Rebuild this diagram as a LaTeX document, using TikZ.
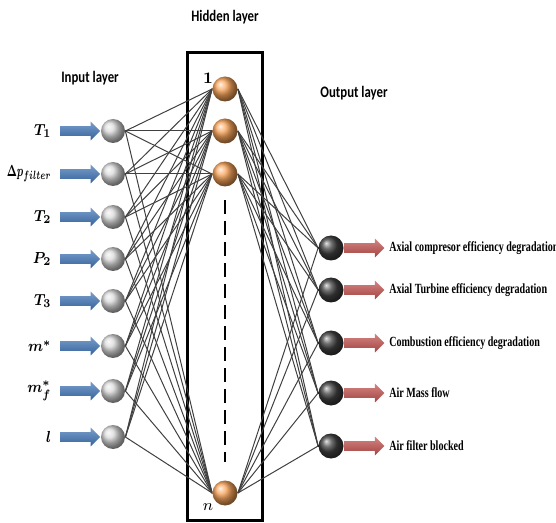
\documentclass[tikz,border=0pt]{standalone}
\usepackage{fontspec}
\usepackage{graphicx}
\newfontfamily\layerfont{Carlito}
\newfontfamily\outfont{Liberation Serif}
\usetikzlibrary{positioning,shapes.arrows,backgrounds}
\definecolor{hidorange}{HTML}{F89A48}
\definecolor{arrowblue}{HTML}{3F74B6}
\definecolor{arrowred}{HTML}{C0504D}
\tikzset{
  inball/.style={circle,minimum size=12pt,inner sep=0pt,shading=ball,ball color=gray!30},
  hidball/.style={circle,minimum size=12.5pt,inner sep=0pt,shading=ball,ball color=hidorange!90!white},
  outball/.style={circle,minimum size=12.5pt,inner sep=0pt,shading=ball,ball color=black!75},
  inarrow/.style={single arrow,minimum height=20pt,minimum width=9pt,single arrow head extend=2.25pt,
    inner xsep=0pt,inner ysep=2.25pt,top color=arrowblue!70,bottom color=arrowblue!85!black},
  outarrow/.style={single arrow,minimum height=20pt,minimum width=9pt,single arrow head extend=2.25pt,
    inner xsep=0pt,inner ysep=2.25pt,top color=arrowred!70,bottom color=arrowred!85!black},
  layerlab/.style={font=\layerfont\bfseries\fontsize{8}{9}\selectfont,inner sep=0pt},
  inlab/.style={font=\fontsize{8}{9}\selectfont,inner sep=0pt},
  outlab/.style={font=\outfont\bfseries\fontsize{7}{8}\selectfont,inner sep=0pt},
  link/.style={line width=0.5pt,black!75}
}
\begin{document}
\begin{tikzpicture}[x=0.5pt,y=-0.5pt]
\useasboundingbox (0,0) rectangle (556,523);
\node[layerlab] (inlayer) at (90,78) {\scalebox{0.8}[1]{Input layer}};
\node[layerlab] (hidlayer) at (225,17) {\scalebox{0.8}[1]{Hidden layer}};
\node[layerlab] (outlayer) at (354,93) {\scalebox{0.8}[1]{Output layer}};
\foreach \n/\y/\s/\t in {1/131/0.85/{$T_1$},2/174/0.62/{$\Delta p_{filter}$},3/217/0.85/{$T_2$},4/259/0.85/{$P_2$},
  5/301/0.85/{$T_3$},6/346/0.85/{$m^{*}$},7/391/0.85/{$m^{*}_{f}$},8/437/0.85/{$l$}}{
  \node[inball] (i\n) at (113,\y) {};
  \node[inarrow,left=0pt of i\n] (a\n) {};
  \node[inlab,left=4pt of a\n] (t\n) {\scalebox{\s}[1]{\boldmath\t}};
}
\node[hidball] (h1) at (225,89) {};
\node[hidball] (h2) at (225,131) {};
\node[hidball] (h3) at (225,174) {};
\node[hidball] (hn) at (225,493) {};
\node[font=\bfseries\fontsize{8}{9}\selectfont] (one) at (208,78) {1};
\node[font=\fontsize{8}{9}\selectfont] (en) at (208,507) {$n$};
\coordinate (dtop) at (225,200);
\coordinate (dbot) at (225,462);
\draw[line width=1pt,dash pattern=on 7pt off 3.5pt] (dtop) -- (dbot);
\foreach \n/\y/\t in {1/248/{Axial compresor efficiency degradation},2/290/{Axial Turbine efficiency degradation},
  3/343/{Combustion efficiency degradation},4/393/{Air Mass flow},5/446/{Air filter blocked}}{
  \node[outball] (o\n) at (331,\y) {};
  \node[outarrow,right=0pt of o\n] (r\n) {};
  \node[outlab,right=2pt of r\n] (l\n) {\scalebox{0.72}[1]{\t}};
}
\begin{pgfonlayer}{background}
\draw[line width=1.5pt] (187,53) rectangle (262,520);
\foreach \i in {1,...,8}
  \foreach \h in {1,2,3,n}
    \draw[link] (i\i.east) -- (h\h.west);
\foreach \h in {1,2,3,n}
  \foreach \o in {1,...,5}
    \draw[link] (h\h.east) -- (o\o.west);
\end{pgfonlayer}
\end{tikzpicture}
\end{document}
